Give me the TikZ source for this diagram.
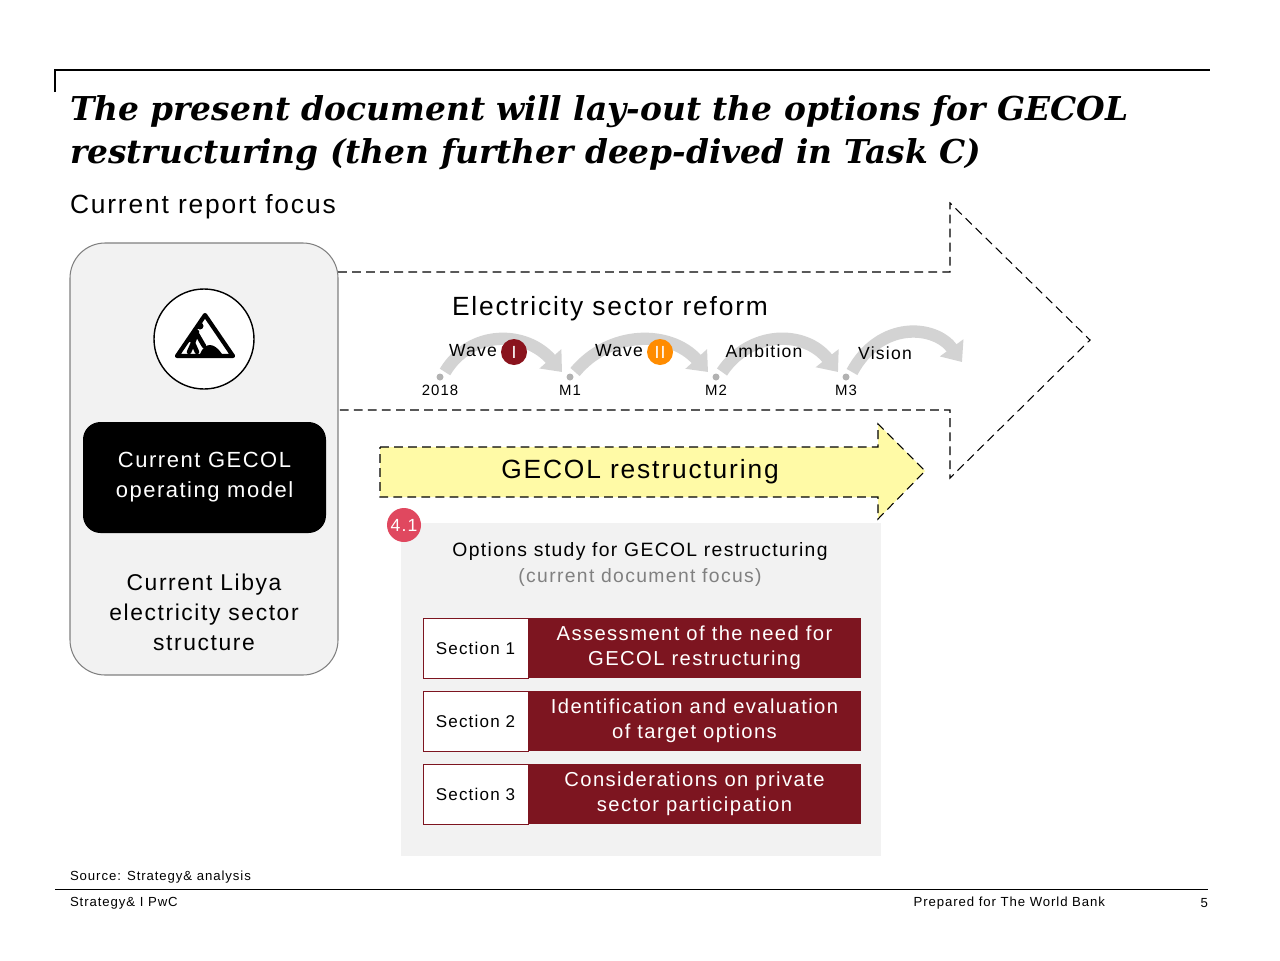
\documentclass[tikz,border=0pt]{standalone}
\usepackage{fontspec}
\setmainfont{Liberation Sans}[LetterSpace=7]
\newfontfamily\titlefont{DejaVu Serif}
\usetikzlibrary{arrows.meta}
\definecolor{pwcred}{HTML}{7D1520}
\definecolor{panel}{HTML}{F2F2F2}
\definecolor{pinkc}{HTML}{E0485F}
\definecolor{arcg}{HTML}{D3D3D3}
\begin{document}
\begin{tikzpicture}[x=0.02cm,y=-0.02cm,
  every node/.style={inner sep=0pt,outer sep=0pt},
  dsh/.style={draw=black,dash pattern=on 5pt off 3pt,line width=0.6pt},
  sec/.style={draw=pwcred,fill=white,minimum width=105*0.02cm,minimum height=60*0.02cm,font=\fontsize{9.7}{12}\selectfont},
  secr/.style={fill=pwcred,text=white,minimum width=333*0.02cm,minimum height=60*0.02cm,align=center,font=\fontsize{11.5}{14}\selectfont},
  tl/.style={font=\fontsize{8.5}{10}\selectfont},
  dot/.style={circle,fill=gray!60,minimum size=7*0.02cm},
  arc/.style={arcg,line width=7pt,-{Triangle[length=10pt,width=16pt]}},
  small/.style={font=\fontsize{7.5}{9}\selectfont}]
\useasboundingbox (0,0) rectangle (1280,960);
% header
\draw[line width=0.6pt] (55,92) -- (55,70) -- (1210,70);
\node[anchor=base west,font=\titlefont\bfseries\itshape\fontsize{18.7}{23}\selectfont] (t1) at (70,120) {The present document will lay-out the options for GECOL};
\node[anchor=base west,font=\titlefont\bfseries\itshape\fontsize{18.7}{23}\selectfont] (t2) at (70,163) {restructuring (then further deep-dived in Task C)};
\node[anchor=base west,font=\fontsize{15}{18}\selectfont] (crf) at (70,213) {Current report focus};
% big dashed arrow
\draw[dsh] (338,272) -- (950,272) -- (950,203) -- (1090,340) -- (950,478) -- (950,410) -- (338,410);
% left box
\draw[draw=gray,fill=panel,rounded corners=20pt,line width=0.6pt] (70,243) rectangle (338,675);
\node[circle,draw=black,fill=white,line width=0.8pt,minimum size=100*0.02cm] (icon) at (204,339) {};
\draw[line width=2.4pt,line join=round,fill=white] (205,315) -- (233,356) -- (177,356) -- cycle;
\fill (200,326) circle (3.5);
\draw[line width=2.6pt,line cap=round] (197,332) -- (193,343) (197,332) -- (190,340) (193,343) -- (189,352) (193,343) -- (197,352) (197,334) -- (204,346);
\fill (200,354) .. controls (205,342) and (214,342) .. (222,354) -- cycle;
\node[fill=black,rounded corners=10pt,minimum width=243*0.02cm,minimum height=111*0.02cm,text=white,align=center,font=\fontsize{12.5}{17}\selectfont] (cur) at (204.5,477.5) {Current GECOL\\operating model};
\node[align=center,font=\fontsize{13}{17}\selectfont] (lib) at (204,612) {Current Libya\\electricity sector\\structure};
% reform
\node[font=\fontsize{15}{18}\selectfont] (esr) at (610,309) {Electricity sector reform};
\draw[arc] (445,372) .. controls (470,330) and (525,330) .. (562,372);
\draw[arc] (575,372) .. controls (610,330) and (670,330) .. (708,372);
\draw[arc] (722,372) .. controls (750,330) and (805,330) .. (838,372);
\draw[arc] (852,372) .. controls (880,320) and (935,325) .. (962,362);
\node[dot] (d0) at (440,377) {}; \node[dot] (d1) at (570,377) {};
\node[dot] (d2) at (716,377) {}; \node[dot] (d3) at (846,377) {};
\node[tl] (l0) at (440,390) {2018}; \node[tl] (l1) at (570,390) {M1};
\node[tl] (l2) at (716,390) {M2}; \node[tl] (l3) at (846,390) {M3};
\node[font=\fontsize{10}{12}\selectfont] (w1) at (473,351) {Wave};
\node[circle,fill=pwcred!90!red,text=white,minimum size=26*0.02cm,font=\fontsize{10}{12}\selectfont] (b1) at (514,352) {I};
\node[font=\fontsize{10}{12}\selectfont] (w2) at (619,351) {Wave};
\node[circle,fill=orange!90!yellow,text=white,minimum size=26*0.02cm,font=\fontsize{10}{12}\selectfont] (b2) at (660,352) {II};
\node[font=\fontsize{10}{12}\selectfont] (amb) at (764,351) {Ambition};
\node[font=\fontsize{10}{12}\selectfont] (vis) at (885,353) {Vision};
% yellow arrow
\draw[dsh,fill=yellow!35] (380,447) -- (878,447) -- (878,424) -- (925,471) -- (878,519) -- (878,497) -- (380,497) -- cycle;
\node[font=\fontsize{15}{18}\selectfont] (gr) at (640,472) {GECOL restructuring};
% panel
\fill[panel] (401,523) rectangle (881,856);
\node[circle,fill=pinkc,text=white,minimum size=34*0.02cm,font=\fontsize{10}{12}\selectfont] (n41) at (404,525) {4.1};
\node[font=\fontsize{11}{13}\selectfont] (os) at (640,551) {Options study for GECOL restructuring};
\node[font=\fontsize{11}{13}\selectfont,text=gray] (cdf) at (640,577) {(current document focus)};
\node[sec] (s1) at (475.5,648) {Section 1};
\node[secr] (r1) at (694.5,648) {Assessment of the need for\\GECOL restructuring};
\node[sec] (s2) at (475.5,721) {Section 2};
\node[secr] (r2) at (694.5,721) {Identification and evaluation\\of target options};
\node[sec] (s3) at (475.5,794) {Section 3};
\node[secr] (r3) at (694.5,794) {Considerations on private\\sector participation};
% footer
\node[small,anchor=west] (src) at (70,877) {Source: Strategy\& analysis};
\draw[line width=0.5pt] (55,889) -- (1208,889);
\node[small,anchor=west] (f1) at (70,903) {Strategy\& I PwC};
\node[small,anchor=east] (f2) at (1105,903) {Prepared for The World Bank};
\node[small,anchor=east] (f3) at (1208,903) {5};
\end{tikzpicture}
\end{document}
